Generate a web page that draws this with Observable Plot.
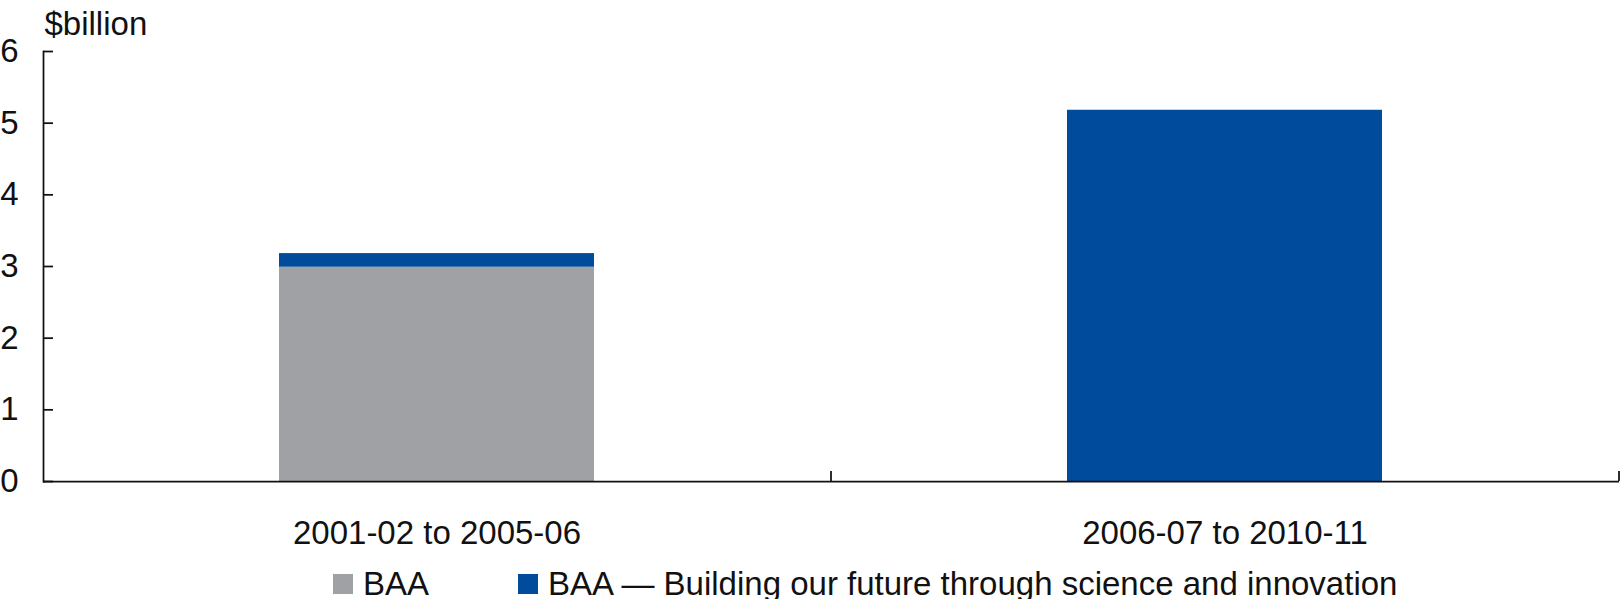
<!DOCTYPE html>
<html><head><meta charset="utf-8">
<script src="https://cdn.jsdelivr.net/npm/d3@7"></script>
<script src="https://cdn.jsdelivr.net/npm/@observablehq/plot@0.6"></script>
<style>
body{margin:0;background:#fff;font-family:"Liberation Sans",Arial,sans-serif;}
#legend{display:flex;align-items:center;padding-left:333px;margin-top:9px;font-size:33px;color:#111;line-height:30px;}
.item{display:flex;align-items:center;}
.sw{width:20px;height:20px;margin-right:10px;}
</style></head><body><div id="chart"></div><div id="legend"></div>
<script>
const periods = ["2001-02 to 2005-06", "2006-07 to 2010-11"];
const series = ["BAA", "BAA — Building our future through science and innovation"];
const baaValues = [2.99, 0];
const bfsiValues = [0.19, 5.18];
const yTicks = [0, 1, 2, 3, 4, 5, 6];
const colors = ["#9fa1a4", "#004b9b"];

const data = [];
periods.forEach((p, i) => {
  data.push({period: p, series: series[0], value: baaValues[i]});
  data.push({period: p, series: series[1], value: bfsiValues[i]});
});

const W = 1621, ML = 43, MR = 2, PI = 0.6, PO = 0.3;
const step = (W - ML - MR) / (periods.length - PI + 2 * PO);

const plot = Plot.plot({
  width: W, height: 560,
  marginLeft: ML, marginRight: MR, marginTop: 51, marginBottom: 79,
  style: {fontFamily: '"Liberation Sans", Arial, sans-serif', fontSize: "33px", color: "#111", background: "#fff", overflow: "visible"},
  x: {domain: periods, paddingInner: PI, paddingOuter: PO, axis: null},
  y: {domain: [0, 6], axis: null},
  color: {domain: series, range: colors},
  marks: [
    Plot.barY(data, Plot.stackY({x: "period", y: "value", fill: "series", order: series})),
    Plot.frame({anchor: "left", stroke: "#111", strokeWidth: 1.75}),
    Plot.ruleY([0], {stroke: "#111", strokeWidth: 1.75}),
    Plot.axisY({ticks: yTicks, tickSize: -10, tickPadding: 35, tickFormat: d => String(d), stroke: "#111", strokeWidth: 1.75, fontSize: 33, label: null}),
    Plot.axisX({ticks: periods, tickSize: -10, dx: step / 2, tickFormat: () => "", stroke: "#111", strokeWidth: 1.75, label: null}),
    Plot.axisX({ticks: periods, tickSize: 0, tickPadding: 39, fontSize: 33, label: null}),
    Plot.text(["$billion"], {frameAnchor: "top-left", textAnchor: "start", lineAnchor: "bottom", dx: 1, dy: -17, fontSize: 33, fill: "#111"})
  ]
});
document.getElementById("chart").appendChild(plot);

const legend = document.getElementById("legend");
series.forEach((s, i) => {
  const item = document.createElement("div");
  item.className = "item";
  if (i === 0) item.style.marginRight = "89px";
  const sw = document.createElement("span");
  sw.className = "sw";
  sw.style.background = colors[i];
  const t = document.createElement("span");
  t.textContent = s;
  item.appendChild(sw); item.appendChild(t);
  legend.appendChild(item);
});
</script></body></html>
